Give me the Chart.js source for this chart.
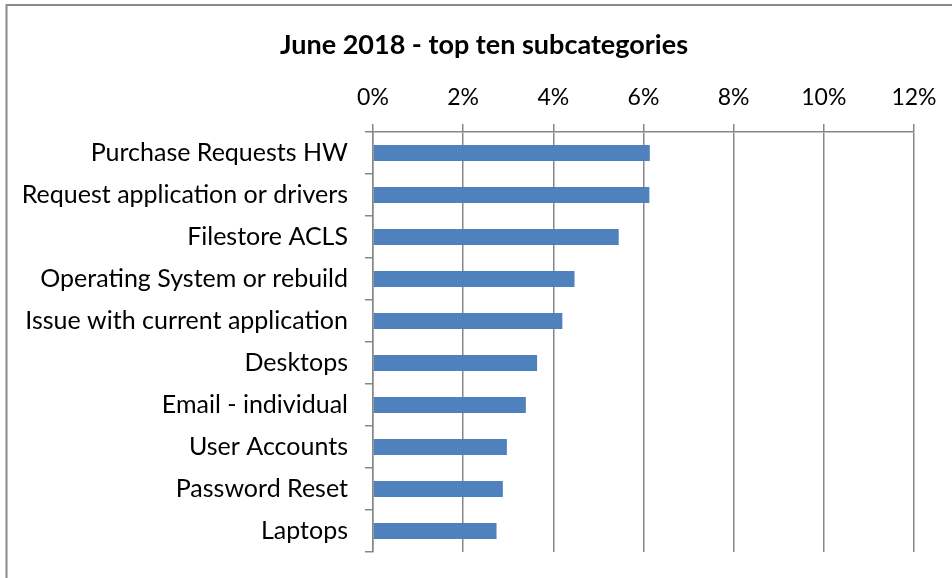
<!DOCTYPE html>
<html>
<head>
<meta charset="utf-8">
<script src="https://cdn.jsdelivr.net/npm/chart.js@4.4.1/dist/chart.umd.min.js"></script>
<style>
  html, body { margin: 0; padding: 0; background: #fff; overflow: hidden; }
  #wrap { position: relative; width: 952px; height: 578px; }
</style>
</head>
<body>
<div id="wrap"><canvas id="chart" width="952" height="578"></canvas></div>
<script>
// Subcategory ticket shares for June 2018 (percent of all tickets)
const subcategories = [
  'Purchase Requests HW',
  'Request application or drivers',
  'Filestore ACLS',
  'Operating System or rebuild',
  'Issue with current application',
  'Desktops',
  'Email - individual',
  'User Accounts',
  'Password Reset',
  'Laptops'
];
const sharePercent = [6.14, 6.13, 5.45, 4.47, 4.20, 3.64, 3.39, 2.97, 2.88, 2.74];
const axisMax = 12;
const axisStep = 2;
const chartTitle = 'June 2018 - top ten subcategories';

const GRID = '#878787';
const FONT = 'Lato, "Noto Sans", sans-serif';

// Outer frame of the chart object (top and left edges)
const framePlugin = {
  id: 'frame',
  beforeDraw(chart) {
    const ctx = chart.ctx;
    ctx.save();
    ctx.strokeStyle = '#8a8a8a';
    ctx.lineWidth = 2;
    ctx.beginPath();
    ctx.moveTo(6.5, 578);
    ctx.lineTo(6.5, 5);
    ctx.lineTo(952, 5);
    ctx.stroke();
    ctx.restore();
  }
};

// Centre the title over the whole chart object rather than the plot
const titleSpanPlugin = {
  id: 'titleSpan',
  afterLayout(chart) {
    const t = chart.titleBlock;
    if (t) {
      t.left = 6;
      t.right = 962;
      t.width = 956;
    }
  }
};

new Chart(document.getElementById('chart'), {
  type: 'bar',
  data: {
    labels: subcategories,
    datasets: [{
      data: sharePercent,
      backgroundColor: '#4F81BD',
      borderWidth: 0,
      barPercentage: 0.38,
      categoryPercentage: 1.0
    }]
  },
  options: {
    indexAxis: 'y',
    responsive: false,
    animation: false,
    events: [],
    layout: { padding: { left: 0, right: 38, top: 0, bottom: 26 } },
    plugins: {
      legend: { display: false },
      tooltip: { enabled: false },
      title: {
        display: true,
        text: chartTitle,
        color: '#000',
        font: { family: FONT, size: 27, weight: 'bold', lineHeight: 1.2 },
        padding: { top: 29, bottom: 8.6 }
      }
    },
    scales: {
      x: {
        position: 'top',
        min: 0,
        max: axisMax,
        ticks: {
          stepSize: axisStep,
          color: '#000',
          padding: 13,
          font: { family: FONT, size: 23 },
          callback: v => v + '%'
        },
        grid: {
          color: GRID,
          lineWidth: 1.5,
          drawTicks: true,
          tickLength: 8
        },
        border: { color: GRID, width: 1.5 },
        afterFit(scale) { scale.height = 62; }
      },
      y: {
        ticks: {
          color: '#000',
          padding: 17,
          font: { family: FONT, size: 25 }
        },
        grid: {
          color: GRID,
          lineWidth: 1.5,
          drawOnChartArea: false,
          drawTicks: true,
          tickLength: 8,
          offset: true
        },
        border: { color: GRID, width: 1.5 },
        afterFit(scale) {
          scale.width = 373;
          scale.paddingTop = 0;
          scale.paddingBottom = 0;
        }
      }
    }
  },
  plugins: [framePlugin, titleSpanPlugin]
});
</script>
</body>
</html>
